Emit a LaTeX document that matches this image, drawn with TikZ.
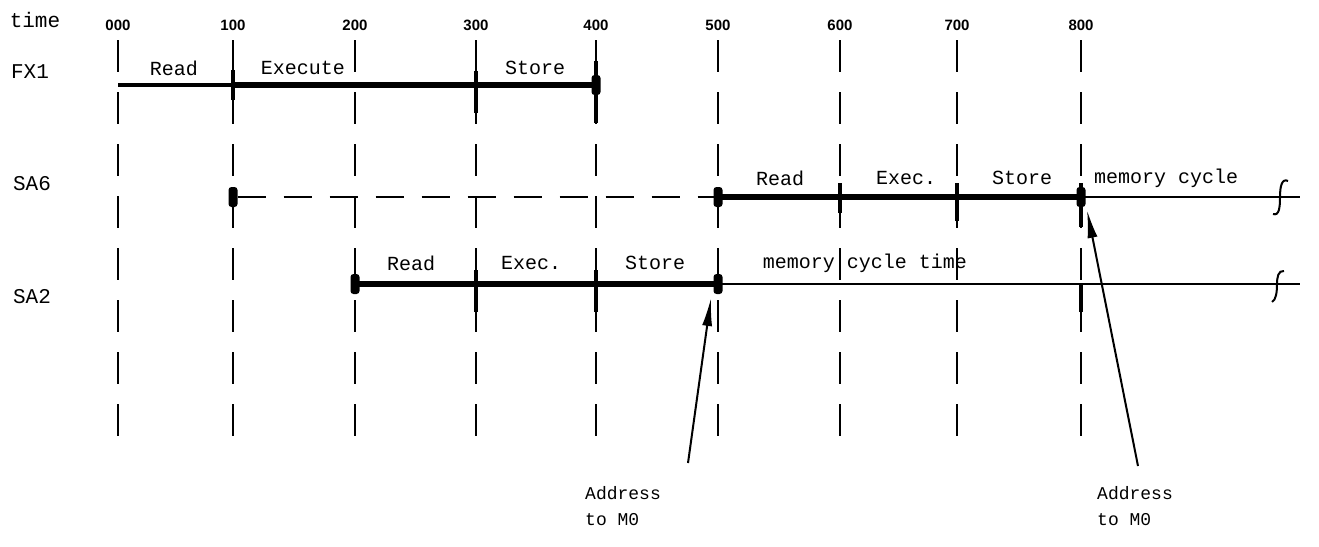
\documentclass[tikz,border=0pt]{standalone}
\usepackage{fontspec}
\setmainfont{Liberation Mono}
\newfontfamily\numfont{Liberation Sans}
\usetikzlibrary{arrows.meta}
\tikzset{
  gridline/.style={line width=2.3pt, dash pattern=on 32pt off 20pt},
  heavyline/.style={line width=5.6pt},
  midline/.style={line width=3.8pt},
  lightline/.style={line width=2pt},
  tickmark/.style={line width=3.4pt},
  blob/.style={fill=black, draw=none, rounded corners=3pt, minimum width=9pt, minimum height=20pt, inner sep=0pt},
  lbl/.style={font=\fontsize{20}{22}\selectfont, inner sep=0pt},
  rowlbl/.style={font=\fontsize{21}{23}\selectfont, inner sep=0pt},
  tlbl/.style={font=\numfont\bfseries\fontsize{15}{16}\selectfont, inner sep=0pt},
  addr/.style={font=\fontsize{18}{26}\selectfont, inner sep=0pt, align=left, anchor=north west},
  pointer/.style={line width=2pt, -{Latex[length=28pt,width=10pt]}}
}
\begin{document}
\begin{tikzpicture}[x=1pt,y=-1pt]
\useasboundingbox (0,0) rectangle (1319,546);
% grid columns
\foreach \x/\t [count=\i from 0] in {118/000,233/100,355/200,476/300,596/400,718/500,840/600,957/700,1081/800} {
  \coordinate (top\i) at (\x,40);
  \coordinate (bot\i) at (\x,446);
  \coordinate (f\i) at (\x,85);
  \coordinate (s\i) at (\x,197);
  \coordinate (a\i) at (\x,284);
  \node[tlbl] (t\i) at (\x,25) {\t};
  \draw[gridline] (top\i) -- (bot\i);
}
% row labels
\node[rowlbl] (time) at (35,20) {time};
\node[rowlbl] (fx1) at (30,72) {FX1};
\node[rowlbl] (sa6) at (32,184) {SA6};
\node[rowlbl] (sa2) at (32,297) {SA2};

% FX1
\draw[midline] (f0) -- (f1);
\draw[heavyline] (f1) -- (f4);
\draw[tickmark] ([yshift=-15pt]f1) -- ([yshift=15pt]f1);
\draw[tickmark] ([yshift=-28pt]f3) -- ([yshift=14pt]f3);
\draw[tickmark] ([yshift=-38pt]f4) -- ([yshift=24pt]f4);
\node[blob] (fb4) at (f4) {};
\node[lbl] (fr) at (174,68) {Read};
\node[lbl] (fe) at (303,68) {Execute};
\node[lbl] (fs) at (535,68) {Store};

% SA6
\node[blob] (sb1) at (s1) {};
\draw[lightline, dash pattern=on 28pt off 18pt] (sb1) -- (s5);
\draw[heavyline] (s5) -- (s8);
\node[blob] (sb5) at (s5) {};
\node[blob] (sb8) at (s8) {};
\draw[tickmark] ([yshift=-16pt]s6) -- ([yshift=14pt]s6);
\draw[tickmark] ([yshift=-24pt]s7) -- ([yshift=14pt]s7);
\draw[tickmark] ([yshift=-30pt]s8) -- ([yshift=14pt]s8);
\coordinate (send) at (1300,197);
\draw[lightline] (s8) -- (send);
\draw[lightline] (1288,181) .. controls (1282,178) and (1280,186) .. (1280,197)
  .. controls (1280,208) and (1279,216) .. (1273,214);
\node[lbl] (sr) at (780,178) {Read};
\node[lbl] (se) at (906,178) {Exec.};
\node[lbl] (ss) at (1022,178) {Store};
\node[lbl, anchor=west] (sm) at (1094,178) {memory cycle};

% SA2
\draw[heavyline] (a2) -- (a5);
\node[blob] (ab2) at (a2) {};
\node[blob] (ab5) at (a5) {};
\draw[tickmark] ([yshift=-28pt]a3) -- ([yshift=14pt]a3);
\draw[tickmark] ([yshift=-28pt]a4) -- ([yshift=14pt]a4);
\draw[tickmark] ([yshift=-28pt]a8) -- (a8);
\coordinate (aend) at (1300,284);
\draw[lightline] (a5) -- (aend);
\draw[lightline] (1284,271) .. controls (1278,270) and (1277,278) .. (1277,284)
  .. controls (1277,292) and (1276,300) .. (1272,302);
\node[lbl] (ar) at (411,263) {Read};
\node[lbl] (ae) at (531,263) {Exec.};
\node[lbl] (as) at (655,263) {Store};
\node[lbl] (am) at (865,263) {memory cycle time};

% Address pointers
\node[addr] (addr1) at (585,486) {Address\\to M0};
\node[addr] (addr2) at (1097,486) {Address\\to M0};
\coordinate (p1) at (688,463);
\coordinate (q1) at (711,298);
\coordinate (p2) at (1138,466);
\coordinate (q2) at (1087,210);
\draw[pointer] (p1) -- (q1);
\draw[pointer] (p2) -- (q2);
\end{tikzpicture}
\end{document}
